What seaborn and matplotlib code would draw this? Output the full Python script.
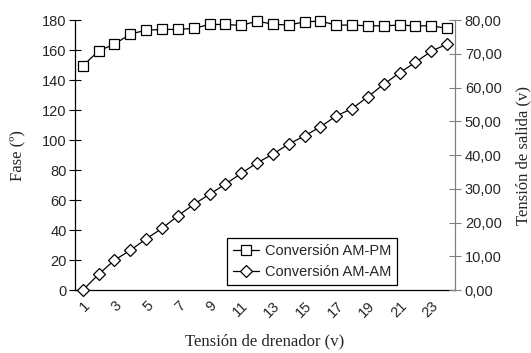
# Fase y tension de salida frente a tension de drenador
import matplotlib.pyplot as plt
import matplotlib.transforms as mtransforms
import seaborn as sns
from matplotlib.ticker import FuncFormatter

# Datos
tension_drenador = list(range(1, 25))
fase_am_pm = [149.5, 159.5, 164.0, 170.7, 173.3, 173.8, 173.8, 174.5, 177.1, 177.1,
              176.5, 179.3, 177.3, 176.7, 178.9, 179.3, 176.7, 176.7, 176.2, 176.2,
              176.7, 176.2, 176.2, 174.5]
salida_am_am = [0.0, 4.7, 8.9, 11.8, 15.2, 18.3, 22.0, 25.4, 28.4, 31.4,
                34.6, 37.7, 40.3, 43.3, 45.7, 48.4, 51.6, 53.8, 57.3, 61.0,
                64.4, 67.5, 70.8, 72.9]
etiquetas_x = [str(v) for v in range(1, 24, 2)]

sns.set_style('white')
plt.rcParams['font.family'] = ['Liberation Sans', 'DejaVu Sans']
plt.rcParams['font.size'] = 10.5

fig = plt.figure(figsize=(5.31, 3.53), dpi=100)
ax = fig.add_axes([0.141, 0.178, 0.716, 0.765])
ax2 = ax.twinx()

sns.lineplot(x=tension_drenador, y=fase_am_pm, ax=ax, color='black', linewidth=0.9,
             marker='s', markersize=7.2, markerfacecolor='white',
             markeredgecolor='black', markeredgewidth=0.9, clip_on=False,
             label='Conversión AM-PM', legend=False)
sns.lineplot(x=tension_drenador, y=salida_am_am, ax=ax2, color='black', linewidth=0.9,
             marker='D', markersize=6, markerfacecolor='white',
             markeredgecolor='black', markeredgewidth=0.9, clip_on=False,
             label='Conversión AM-AM', legend=False)

ax.set_xlim(0.5, 24.5)
ax.set_ylim(0, 180)
ax2.set_ylim(0, 80)
ax.set_yticks(range(0, 181, 20))
ax2.set_yticks(range(0, 81, 10))
ax2.yaxis.set_major_formatter(FuncFormatter(lambda v, p: f'{v:.2f}'.replace('.', ',')))

# ticks en los limites de categoria, etiquetas en las categorias impares
ax.set_xticks([i + 0.5 for i in range(0, 25)])
ax.set_xticklabels([])
ax.set_xticks(range(1, 24, 2), minor=True)
ax.set_xticklabels(etiquetas_x, minor=True, rotation=45, ha='right', va='top',
                   rotation_mode='anchor')
offset = mtransforms.ScaledTranslation(-4 / 72, 0, fig.dpi_scale_trans)
for lbl in ax.get_xticklabels(minor=True):
    lbl.set_transform(lbl.get_transform() + offset)
ax.tick_params(axis='x', which='major', direction='inout', length=8, width=0.8,
               color='black')
ax.tick_params(axis='x', which='minor', length=0, pad=6)
ax.tick_params(axis='y', direction='inout', length=8, width=0.8, color='black', pad=2)
ax2.tick_params(axis='y', direction='inout', length=8, width=0.8, color='#808080', pad=3)

for a in (ax, ax2):
    a.spines['top'].set_visible(False)
ax.spines['right'].set_visible(False)
ax.spines['left'].set_color('black')
ax.spines['bottom'].set_color('black')
ax2.spines['left'].set_visible(False)
ax2.spines['bottom'].set_visible(False)
ax2.spines['right'].set_color('#808080')
for a in (ax, ax2):
    for s in a.spines.values():
        s.set_linewidth(0.9)

serif = ['Liberation Serif', 'DejaVu Serif']
ax.set_xlabel('Tensión de drenador (v)', family=serif, fontsize=12, labelpad=10)
ax.set_ylabel('Fase (º)', family=serif, fontsize=12, labelpad=12)
ax2.set_ylabel('Tensión de salida (v)', family=serif, fontsize=12, labelpad=10)

h1, l1 = ax.get_legend_handles_labels()
h2, l2 = ax2.get_legend_handles_labels()
leg = ax2.legend(h1 + h2, l1 + l2, loc='lower left', bbox_to_anchor=(0.40, 0.02),
                 frameon=True, fancybox=False, framealpha=1, edgecolor='black',
                 handlelength=1.8, handletextpad=0.4, borderpad=0.4,
                 labelspacing=0.5, fontsize=10.5, borderaxespad=0)
leg.get_frame().set_linewidth(0.9)

fig.savefig('out.png', dpi=100)
